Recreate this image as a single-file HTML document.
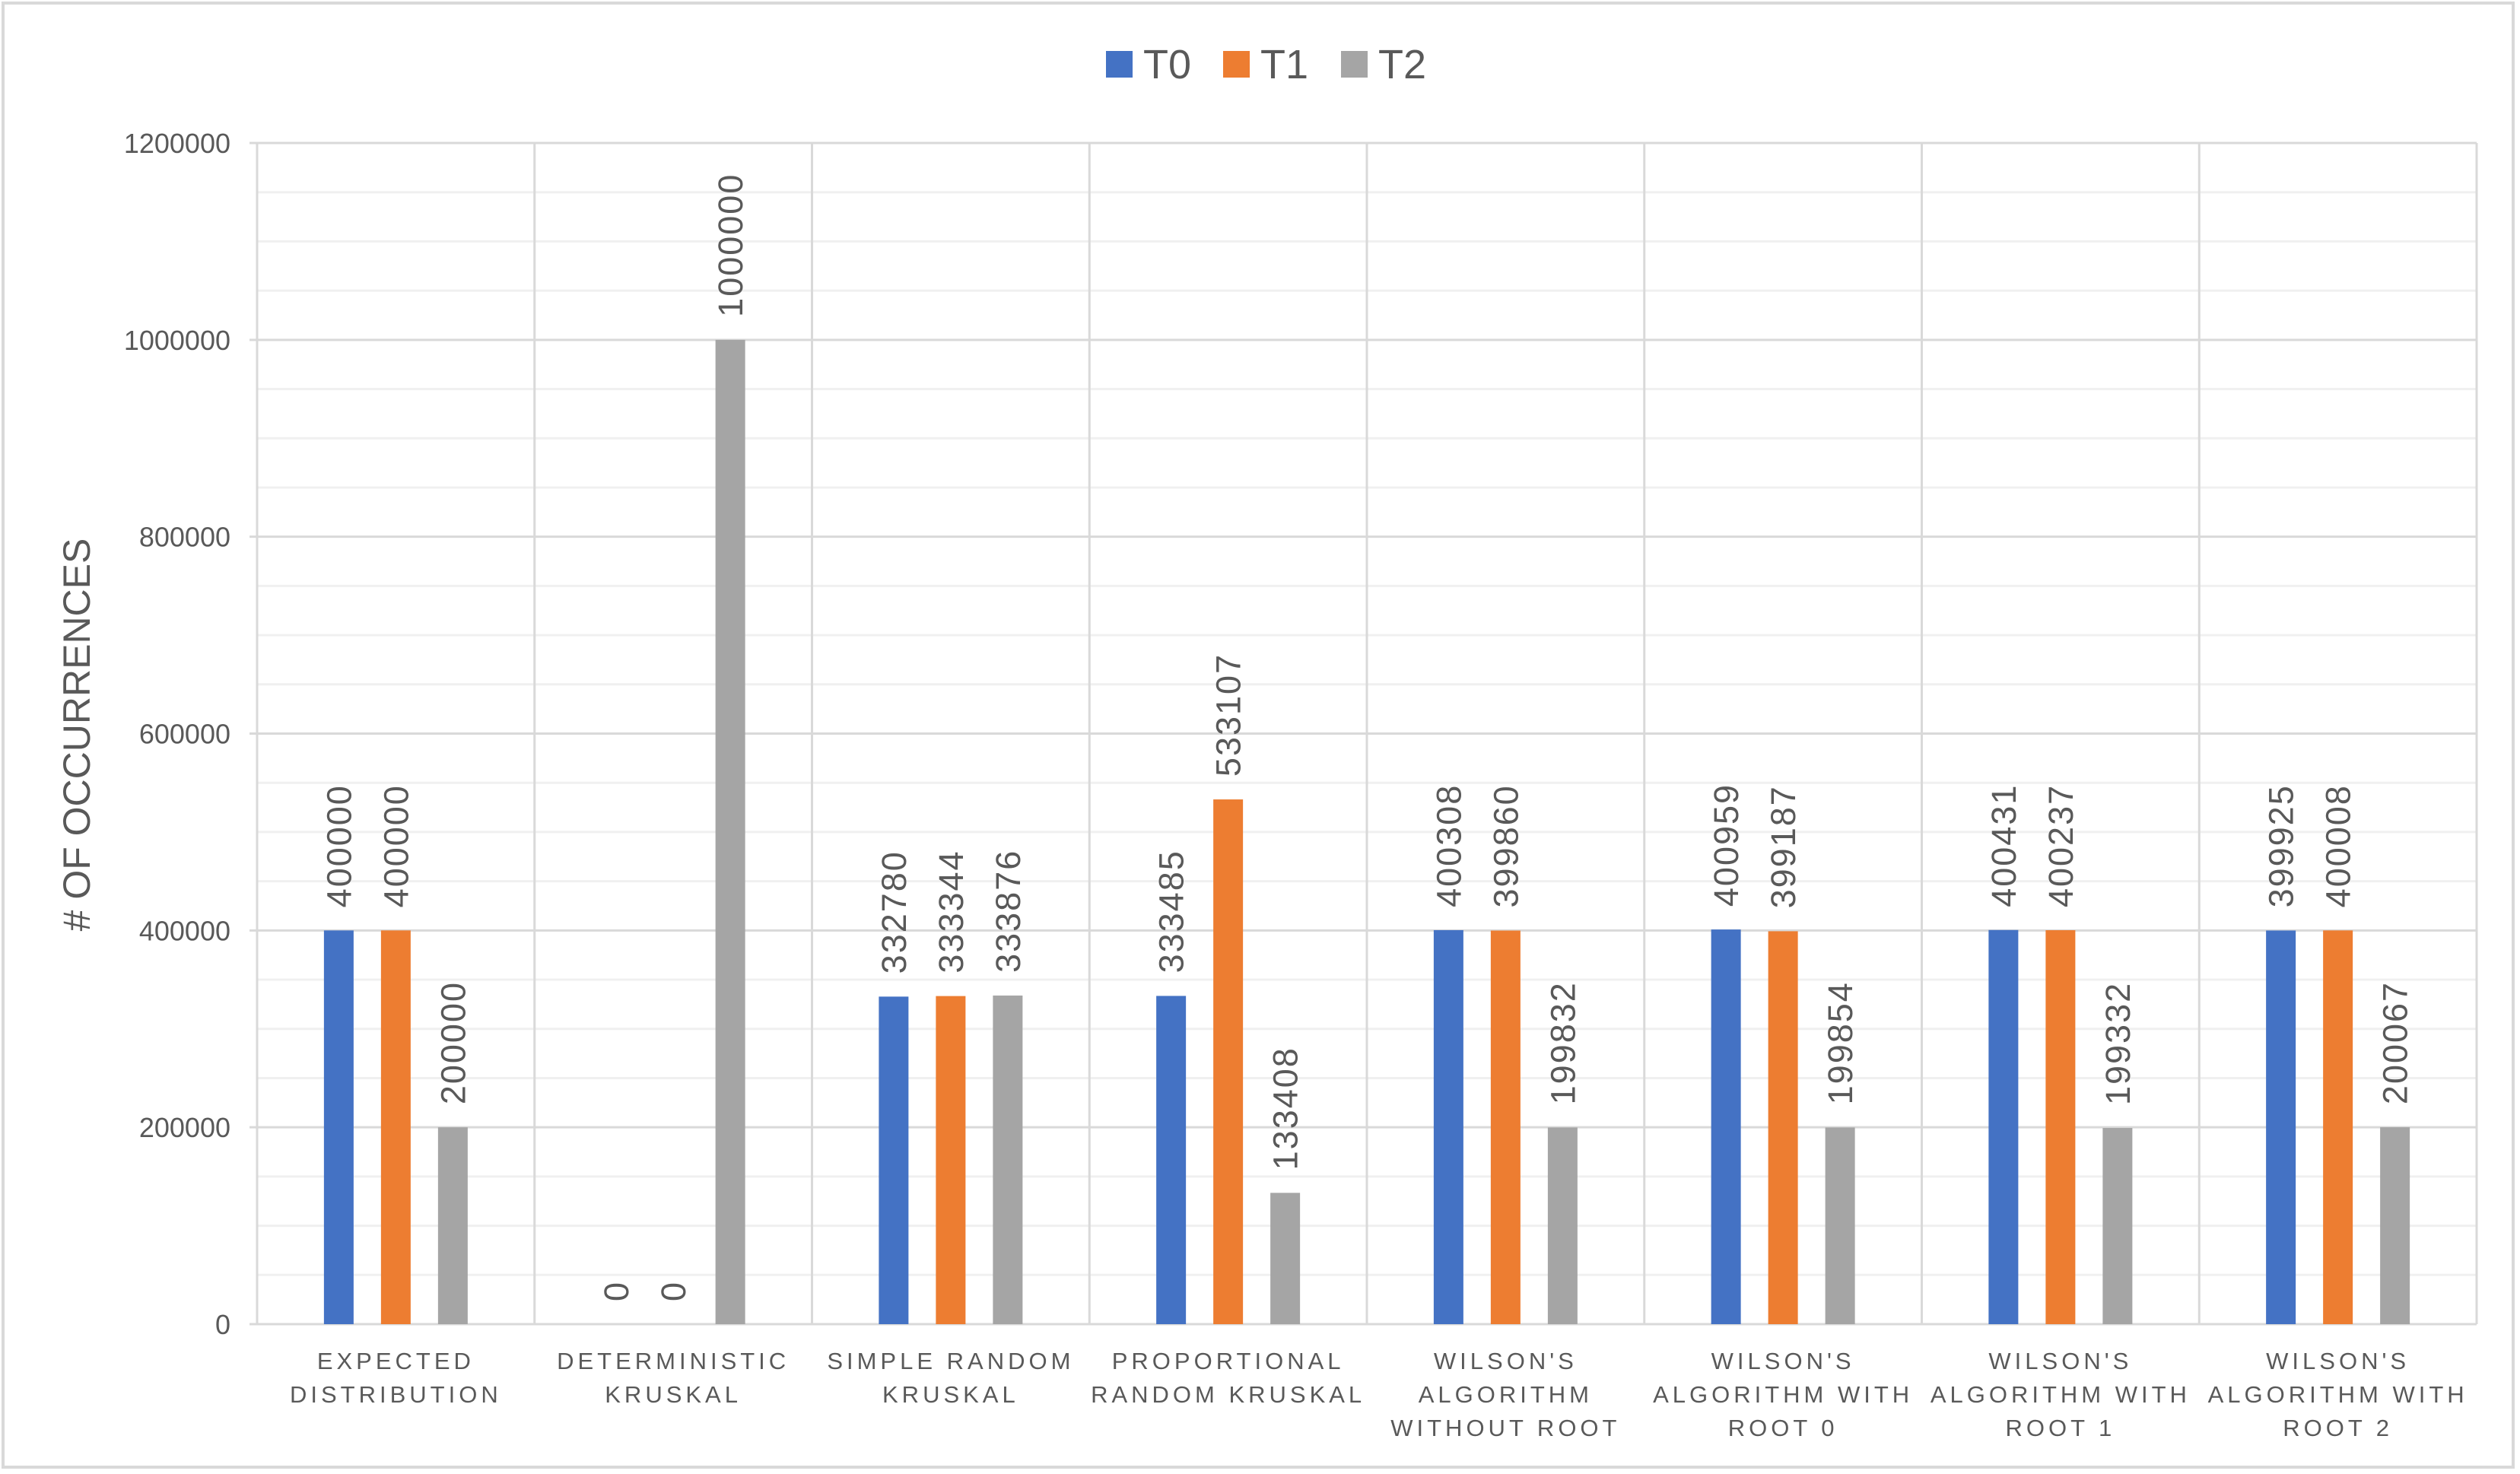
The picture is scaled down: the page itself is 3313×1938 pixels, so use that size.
<!DOCTYPE html>
<html><head><meta charset="utf-8"><style>
body{margin:0;background:#fff;}
svg{display:block;font-family:"Liberation Sans",sans-serif;}
</style></head><body>
<svg id="chart" width="3313" height="1938" viewBox="0 0 3313 1938" xmlns="http://www.w3.org/2000/svg">
<rect x="4" y="4" width="3300" height="1925" fill="#fff" stroke="#d9d9d9" stroke-width="4"/>
<g id="grid"></g>
<g id="bars"></g>
<g id="labels"></g>
<g id="xlabels"></g>
<g id="yticks"></g>
<text transform="translate(118,966) rotate(-90)" text-anchor="middle" font-size="50" fill="#595959">#  OF  OCCURRENCES</text>
<g>
<rect x="1454" y="67" width="35" height="35" fill="#4472c4"/>
<text x="1503" y="103" font-size="54" fill="#595959">T0</text>
<rect x="1608" y="67" width="35" height="35" fill="#ed7d31"/>
<text x="1657" y="103" font-size="54" fill="#595959">T1</text>
<rect x="1763" y="67" width="35" height="35" fill="#a5a5a5"/>
<text x="1812" y="103" font-size="54" fill="#595959">T2</text>
</g>
</svg>
<script>
const categories=[["EXPECTED","DISTRIBUTION"],["DETERMINISTIC","KRUSKAL"],["SIMPLE RANDOM","KRUSKAL"],["PROPORTIONAL","RANDOM KRUSKAL"],["WILSON'S","ALGORITHM","WITHOUT ROOT"],["WILSON'S","ALGORITHM WITH","ROOT 0"],["WILSON'S","ALGORITHM WITH","ROOT 1"],["WILSON'S","ALGORITHM WITH","ROOT 2"]];
const t0=[400000,0,332780,333485,400308,400959,400431,399925];
const t1=[400000,0,333344,533107,399860,399187,400237,400008];
const t2=[200000,1000000,333876,133408,199832,199854,199332,200067];
const yTicks=[0,200000,400000,600000,800000,1000000,1200000];
const seriesNames=["t0","t1","t2"];
const colors=["#4472c4","#ed7d31","#a5a5a5"];
const NS="http://www.w3.org/2000/svg";
const L=338,R=3256,T=188,B=1741,yMax=1200000;
const catW=(R-L)/categories.length;
const y=v=>B-(v/yMax)*(B-T);
const xc=i=>L+catW*(i+0.5);
function mk(tag,attrs,parent,txt){const e=document.createElementNS(NS,tag);for(const k in attrs)e.setAttribute(k,attrs[k]);if(txt!==undefined)e.textContent=txt;document.getElementById(parent).appendChild(e);return e;}
for(let v=50000;v<yMax;v+=50000){if(v%200000===0)continue;
const g=mk('line',{x1:L,x2:R,y1:y(v),y2:y(v),stroke:'#f0f0f0','stroke-width':3},'grid');

}
for(let i=0;i<=categories.length;i++){const g=mk('line',{x1:L+catW*i,x2:L+catW*i,y1:T,y2:B,stroke:'#d9d9d9','stroke-width':3},'grid');

}
yTicks.forEach(v=>{
const g=mk('line',{x1:L-10,x2:R,y1:y(v),y2:y(v),stroke:'#d9d9d9','stroke-width':3},'grid');


const t=mk('text',{x:303,y:y(v)+13,'text-anchor':'end','font-size':36,fill:'#595959'},'yticks',String(v));


});
const series=[t0,t1,t2];
series.forEach((s,si)=>{s.forEach((v,i)=>{
const cx=xc(i)+(si-1)*75;
const b=mk('rect',{x:cx-19.5,y:y(v),width:39,height:B-y(v),fill:colors[si]},'bars');


const lt=mk('text',{transform:`translate(${cx+16},${y(v)-30}) rotate(-90)`,'font-size':45,fill:'#595959','letter-spacing':'2'},'labels',String(v));


});});
categories.forEach((lines,i)=>{lines.forEach((ln,k)=>{
const t=mk('text',{x:xc(i),y:1800+k*44,'text-anchor':'middle','font-size':31,fill:'#595959','letter-spacing':'5'},'xlabels',ln);


});});
</script>
</body></html>
